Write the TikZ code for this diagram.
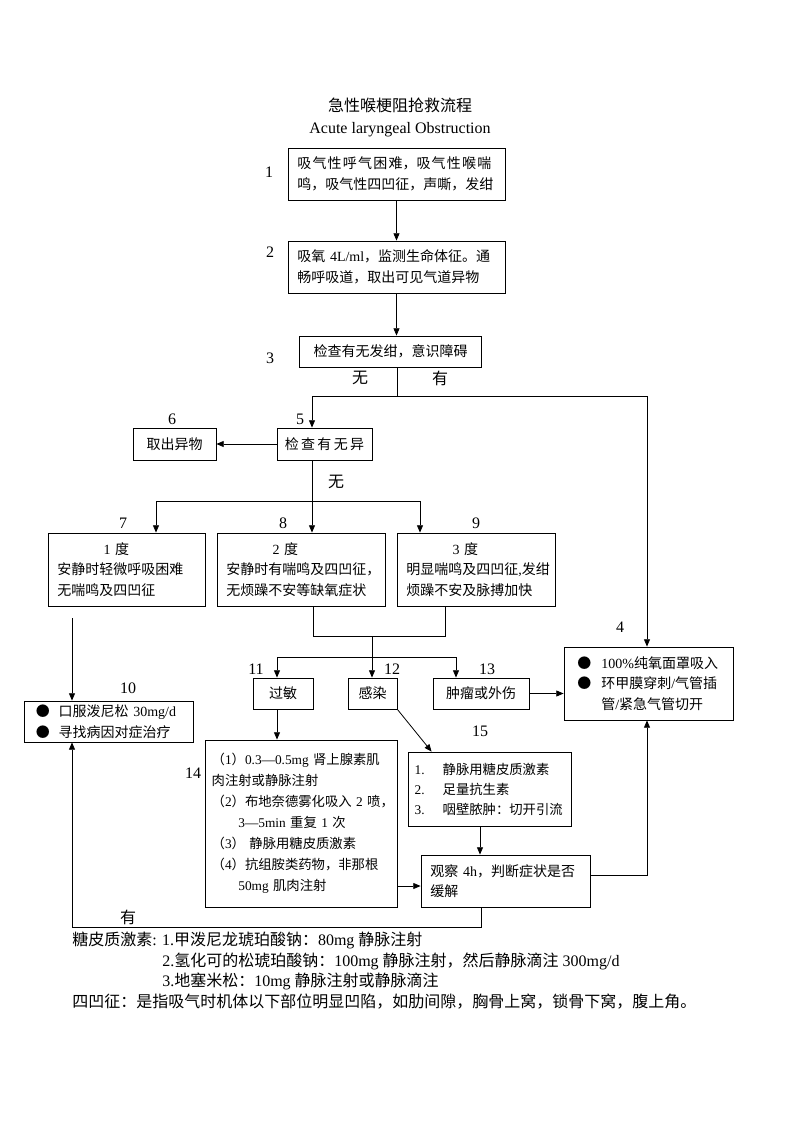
\documentclass[tikz,border=0pt]{standalone}
\usepackage{fontspec}
\setmainfont{Liberation Serif}
\newfontfamily\cjkfont{Noto Sans CJK SC}
\usetikzlibrary{
    positioning,
    arrows.meta,
    calc
}
\XeTeXinterchartokenstate=1
\newXeTeXintercharclass\CJKclass
\newcount\cjkcode
\newcommand\setcjkrange[2]{%
    \cjkcode=#1\relax
    \loop
        \XeTeXcharclass\cjkcode=\CJKclass
    \ifnum\cjkcode<#2\relax
        \advance\cjkcode by 1
    \repeat}
\setcjkrange{"3000}{"303F}
\setcjkrange{"4E00}{"9FFF}
\setcjkrange{"FF00}{"FFEF}
\XeTeXcharclass"25CF=\CJKclass
\XeTeXinterchartoks 0 \CJKclass = {\cjkfont}
\XeTeXinterchartoks 4095 \CJKclass = {\cjkfont}
\XeTeXinterchartoks \CJKclass 0 = {\rmfamily}
\XeTeXinterchartoks \CJKclass 4095 = {\rmfamily}
\newcommand\gap{\kern0.9pt}
\tikzset{
    box/.style={draw, line width=0.6pt, inner ysep=0pt, font=\fontsize{10.5}{15.5}\selectfont},
    cbox/.style={box, align=center, inner xsep=0pt},
    lbox/.style={box, align=left, inner xsep=7pt},
    num/.style={font=\fontsize{12}{12}\selectfont, inner sep=0pt},
    tag/.style={font=\fontsize{12}{12}\selectfont, inner sep=0pt},
    note/.style={font=\fontsize{12}{15}\selectfont, anchor=west, inner sep=0pt},
    title/.style={font=\fontsize{12}{16}\selectfont, align=center, inner sep=0pt},
    link/.style={line width=0.6pt},
    arr/.style={-{Triangle[length=5.5pt,width=4.5pt]}, line width=0.6pt}
}
\begin{document}
\begin{tikzpicture}[x=0.75pt, y=-0.75pt]
    \path[use as bounding box, fill=white] (0,0) rectangle (793,1122);
    \node[title] (head) at (400,117.5) {急性喉梗阻抢救流程\\Acute laryngeal Obstruction};
    \node[lbox, text width=148.75pt, minimum height=39pt] (s1) at (396.5,174) {吸\gap 气\gap 性\gap 呼\gap 气\gap 困\gap 难，吸\gap 气\gap 性\gap 喉\gap 喘\\鸣，吸气性四凹征，声嘶，发绀};
    \node[lbox, text width=148.75pt, minimum height=39pt] (s2) at (396.5,267) {吸氧 4L/ml，监测生命体征。通\\畅呼吸道，取出可见气道异物};
    \node[cbox, minimum width=136pt, minimum height=23.25pt] (s3) at (390.5,351.5) {检查有无发绀，意识障碍};
    \node[cbox, minimum width=71.25pt, minimum height=24pt] (s5) at (324.5,444) {检\,查\,有\,无\,异};
    \node[cbox, minimum width=62.25pt, minimum height=24pt] (s6) at (174.5,444) {取出异物};
    \node[lbox, text width=103.75pt, minimum height=54.75pt] (s7) at (126.5,569.5) {\hspace*{3.3em}1 度\\安静时轻微呼吸困难\\无喘鸣及四凹征};
    \node[lbox, text width=112pt, minimum height=54.75pt] (s8) at (301,569.5) {\hspace*{3.3em}2 度\\安静时有喘鸣及四凹征，\\无烦躁不安等缺氧症状};
    \node[lbox, text width=104.5pt, minimum height=54.75pt] (s9) at (476,569.5) {\hspace*{3.3em}3 度\\明显喘鸣及四凹征,发绀\\烦躁不安及脉搏加快};
    \node[cbox, minimum width=45pt, minimum height=23.25pt] (s11) at (283,693.5) {过敏};
    \node[cbox, minimum width=36.75pt, minimum height=23.25pt] (s12) at (372.5,693.5) {感染};
    \node[cbox, minimum width=72pt, minimum height=23.25pt] (s13) at (481,693.5) {肿瘤或外伤};
    \node[lbox, inner xsep=10pt, text width=106.75pt, minimum height=54.75pt] (s4) at (648.5,683.5) {\makebox[18pt][l]{●}100\%纯氧面罩吸入\\\makebox[18pt][l]{●}环甲膜穿刺/气管插\\\hspace*{18pt}管/紧急气管切开};
    \node[lbox, inner xsep=9pt, text width=108.75pt, minimum height=30.75pt] (s10) at (108.5,721.5) {\makebox[17pt][l]{●}口服泼尼松~30mg/d\\\makebox[17pt][l]{●}寻找病因对症治疗};
    \node[lbox, font=\fontsize{10}{15.75}\selectfont, inner xsep=5pt, text width=134pt, minimum height=125.25pt] (s14) at (301,823.5) {（1）0.3—0.5mg~肾上腺素肌\\肉注射或静脉注射\\（2）布地奈德雾化吸入~2~喷，\\\hspace*{2em}3—5min~重复~1~次\\（3）~静脉用糖皮质激素\\（4）抗组胺类药物，非那根\\\hspace*{2em}50mg~肌肉注射};
    \node[lbox, font=\fontsize{10}{15}\selectfont, inner xsep=5pt, text width=112.25pt, minimum height=55.5pt] (s15) at (489.5,789) {\makebox[21pt][l]{1.}静脉用糖皮质激素\\\makebox[21pt][l]{2.}足量抗生素\\\makebox[21pt][l]{3.}咽壁脓肿：切开引流};
    \node[lbox, text width=112.75pt, minimum height=39pt] (s16) at (505.5,881) {观察~4h，判断症状是否\\缓解};
    \node[num] at (269,172) {1};
    \node[num] at (270,252) {2};
    \node[num] at (270,358) {3};
    \node[num] at (620,627) {4};
    \node[num] at (300,419) {5};
    \node[num] at (172,419) {6};
    \node[num] at (123,523) {7};
    \node[num] at (283,523) {8};
    \node[num] at (476,523) {9};
    \node[num] at (128,688) {10};
    \node[num] at (256,669) {11};
    \node[num] at (392,669) {12};
    \node[num] at (487,669) {13};
    \node[num] at (193,773) {14};
    \node[num] at (480,731) {15};
    \draw[arr] (s1.south) -- (s2.north);
    \draw[arr] (s2.south) -- (s2.south |- s3.north);
    \coordinate (j3) at (397,396);
    \coordinate (j3l) at (312,396);
    \coordinate (j3r) at (647,396);
    \draw[link] (s3.south -| j3) -- (j3);
    \draw[link] (j3l) -- (j3r);
    \draw[arr] (j3l) -- (j3l |- s5.north);
    \draw[arr] (j3r) -- (j3r |- s4.north);
    \node[tag] at (360,378) {无};
    \node[tag] at (440,378) {有};
    \draw[arr] (s5.west) -- (s6.east);
    \coordinate (j5) at (312,501);
    \coordinate (j5l) at (156,501);
    \coordinate (j5r) at (420,501);
    \draw[link] (j5 |- s5.south) -- (j5);
    \draw[link] (j5l) -- (j5r);
    \draw[arr] (j5l) -- (j5l |- s7.north);
    \draw[arr] (j5) -- (j5 |- s8.north);
    \draw[arr] (j5r) -- (j5r |- s9.north);
    \node[tag] at (336,482) {无};
    \coordinate (m8) at (313,636);
    \coordinate (m9) at (445,636);
    \coordinate (j8) at (372,636);
    \coordinate (j11) at (372,657);
    \coordinate (j11l) at (277,657);
    \coordinate (j11r) at (456,657);
    \draw[link] (m8 |- s8.south) -- (m8) -- (m9) -- (m9 |- s9.south);
    \draw[link] (j8) -- (j11);
    \draw[link] (j11l) -- (j11r);
    \draw[arr] (j11l) -- (j11l |- s11.north);
    \draw[arr] (j11) -- (j11 |- s12.north);
    \draw[arr] (j11r) -- (j11r |- s13.north);
    \coordinate (c7) at (72,618);
    \draw[arr] (c7) -- (c7 |- s10.north);
    \draw[arr] (j11l |- s11.south) -- (j11l |- s14.north);
    \draw[arr] (s12.south east) -- ([xshift=18pt]s15.north west);
    \draw[arr] (s13.east) -- (s13.east -| s4.west);
    \coordinate (c15) at (480,826);
    \draw[arr] (c15 |- s15.south) -- (c15 |- s16.north);
    \coordinate (c14) at (397,886);
    \draw[arr] (c14 -| s14.east) -- (c14 -| s16.west);
    \coordinate (c16) at (647,875);
    \draw[arr] (c16 -| s16.east) -- (c16) -- (c16 |- s4.south);
    \coordinate (c16b) at (481,927);
    \draw[arr] (c16b |- s16.south) -- (c16b) -| (c7 |- s10.south);
    \node[tag] at (128,917) {有};
    \node[note] (n1) at (72,940) {糖皮质激素: 1.甲泼尼龙琥珀酸钠：80mg 静脉注射};
    \node[note] (n2) at (162,961) {2.氢化可的松琥珀酸钠：100mg 静脉注射，然后静脉滴注 300mg/d};
    \node[note] (n3) at (162,981) {3.地塞米松：10mg 静脉注射或静脉滴注};
    \node[note] (n4) at (72,1002) {四凹征：是指吸气时机体以下部位明显凹陷，如肋间隙，胸骨上窝，锁骨下窝，腹上角。};
\end{tikzpicture}
\end{document}
